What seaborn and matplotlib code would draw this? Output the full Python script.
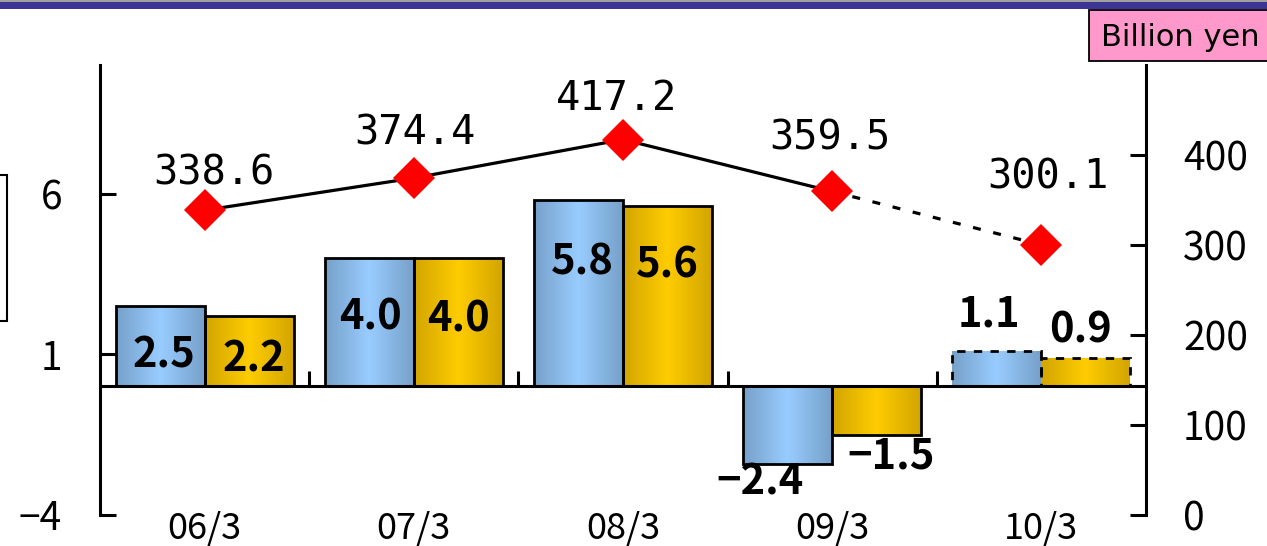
import numpy as np
import pandas as pd
import matplotlib
matplotlib.use("Agg")
import matplotlib.pyplot as plt
import seaborn as sns
from matplotlib.colors import LinearSegmentedColormap
from matplotlib.patches import Rectangle

# ---------------- data ----------------
periods = ["06/3", "07/3", "08/3", "09/3", "10/3"]
series_a = [2.5, 4.0, 5.8, -2.4, 1.1]          # blue bars (left axis)
series_b = [2.2, 4.0, 5.6, -1.5, 0.9]          # yellow bars (left axis)
line_vals = [338.6, 374.4, 417.2, 359.5, 300.1]  # red diamonds (right axis)
left_ticks = [-4, 1, 6]
right_ticks = [0, 100, 200, 300, 400]
unit_label = "Billion yen"
forecast_idx = 4   # last period is a forecast (dashed)

# ---------------- style / layout ----------------
W, H, DPI = 1267, 546, 100
PX = 72.0 / DPI   # points per pixel

sns.set_theme(style="white")
plt.rcParams["font.family"] = ["Noto Sans CJK JP", "DejaVu Sans"]
plt.rcParams["axes.unicode_minus"] = True

fig = plt.figure(figsize=(W / DPI, H / DPI), dpi=DPI)
ax = fig.add_axes([100 / W, 31 / H, 1046 / W, 450 / H])

df = pd.DataFrame({
    "period": periods * 2,
    "value": series_a + series_b,
    "series": ["a"] * len(periods) + ["b"] * len(periods),
})
sns.barplot(data=df, x="period", y="value", hue="series", order=periods,
            hue_order=["a", "b"], width=0.85, gap=0, errorbar=None,
            legend=False, ax=ax, saturation=1,
            palette={"a": "#99CCFF", "b": "#FFCC00"},
            edgecolor="black", linewidth=2.0)

cmaps = [
    LinearSegmentedColormap.from_list("blue", ["#76A0C9", "#99CCFF", "#76A0C9"]),
    LinearSegmentedColormap.from_list("gold", ["#D2A500", "#FFCC00", "#D2A500"]),
]
grad = np.linspace(0, 1, 256).reshape(1, -1)
for cont, cmap in zip(ax.containers, cmaps):
    for i, patch in enumerate(cont.patches):
        x0, y0 = patch.get_x(), patch.get_y()
        w, h = patch.get_width(), patch.get_height()
        im = ax.imshow(grad, extent=[x0, x0 + w, min(y0, y0 + h), max(y0, y0 + h)],
                       aspect="auto", cmap=cmap, zorder=1.5, interpolation="bilinear")
        im.set_clip_path(patch)
        patch.set_facecolor("none")
        patch.set_zorder(2)
        if i == forecast_idx:
            patch.set_linestyle((0, (3, 3)))
            patch.set_linewidth(2.0)

ax.set_xlim(-0.5, len(periods) - 0.5)
ax.set_ylim(-4, 10)
ax.set_xlabel("")
ax.set_ylabel("")

# zero line and category separators
ax.axhline(0, color="black", lw=2.2, zorder=3)
ax.vlines(np.arange(len(periods) - 1) + 0.5, 0, 0.47, color="black", lw=2.2, zorder=3)

for s in ["top", "right", "bottom"]:
    ax.spines[s].set_visible(False)
ax.spines["left"].set_linewidth(2.2)
ax.spines["left"].set_color("black")
ax.set_yticks(left_ticks)
ax.tick_params(axis="y", direction="in", length=16 * PX, width=2.2, pad=38 * PX,
               labelsize=28, colors="black")
ax.set_xticks(range(len(periods)))
ax.set_xticklabels(periods)
ax.tick_params(axis="x", length=0, pad=-3, labelsize=26, colors="black")

# bar labels: offsets (dx, dy) in pixels from (bar centre, bar end)
offs_a = [(4, -49), (1, -60), (4, -62), (-28, -19), (-8, 37)]
offs_b = [(5, -44), (0, -62), (0, -59), (14, -22), (-5, 27)]
for cont, vals, offs in zip(ax.containers, [series_a, series_b], [offs_a, offs_b]):
    for patch, v, (dx, dy) in zip(cont.patches, vals, offs):
        xc = patch.get_x() + patch.get_width() / 2
        txt = f"{v:.1f}".replace("-", "\u2212")
        ax.annotate(txt, (xc, v), xytext=(dx * PX, dy * PX), textcoords="offset points",
                    ha="center", va="center", fontsize=30, fontweight="bold",
                    color="black", zorder=5)

# ---------------- line on right axis ----------------
ax2 = ax.twinx()
xs = np.arange(len(periods))
sns.lineplot(x=xs[:forecast_idx], y=line_vals[:forecast_idx], ax=ax2,
             color="black", lw=2.3, zorder=3)
sns.lineplot(x=xs[forecast_idx - 1:], y=line_vals[forecast_idx - 1:], ax=ax2,
             color="black", lw=2.3, zorder=3, linestyle=(0, (2.5, 4)))
ax2.plot(xs, line_vals, linestyle="none", marker="D", markersize=21,
         markerfacecolor="#FF0000", markeredgewidth=0, zorder=4)
ax2.set_ylim(0, 500)
ax2.set_xlim(-0.5, len(periods) - 0.5)
ax2.set_yticks(right_ticks)
ax2.set_ylabel("")
for s in ["top", "left", "bottom"]:
    ax2.spines[s].set_visible(False)
ax2.spines["right"].set_linewidth(2.2)
ax2.spines["right"].set_color("black")
ax2.tick_params(axis="y", direction="in", length=16 * PX, width=2.2, pad=37 * PX,
                labelsize=28, colors="black")

line_offs = [(9, 37), (1, 45), (-6, 41), (-2, 53), (6, 67)]
for x, v, (dx, dy) in zip(xs, line_vals, line_offs):
    ax2.annotate(f"{v:.1f}", (x, v), xytext=(dx * PX, dy * PX), textcoords="offset points",
                 ha="center", va="center", fontsize=29, fontweight="normal",
                 family="DejaVu Sans Mono", color="black", zorder=6)

# ---------------- page decorations ----------------
def fy(px):
    return 1 - px / H

fig.add_artist(Rectangle((0, fy(2)), 1, 2 / H, transform=fig.transFigure,
                         facecolor="#A0A0A0", edgecolor="none"))
fig.add_artist(Rectangle((0, fy(9)), 1, 7 / H, transform=fig.transFigure,
                         facecolor="#3C3594", edgecolor="none"))
fig.add_artist(Rectangle((-10 / W, fy(321)), 17 / W, 146 / H, transform=fig.transFigure,
                         facecolor="none", edgecolor="black", lw=1.5))
fig.add_artist(Rectangle((1089 / W, fy(61)), 190 / W, 51 / H, transform=fig.transFigure,
                         facecolor="#FF99CC", edgecolor="black", lw=1.3))
fig.text(1101 / W, fy(37), unit_label, ha="left", va="center", fontsize=22,
         family="DejaVu Sans", color="black")

fig.savefig("out.png", dpi=DPI)
